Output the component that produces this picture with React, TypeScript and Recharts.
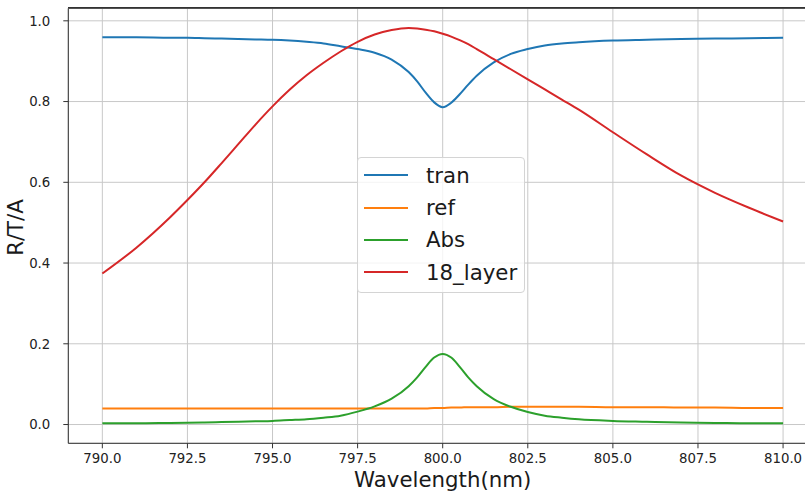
import React from "react";
import { LineChart, Line, XAxis, YAxis, CartesianGrid, Legend } from "recharts";

// wavelength samples (nm) shared by all series
const wavelength = [
  790, 791, 792, 792.5, 793, 793.5, 794, 794.5, 795, 795.5, 796, 796.5, 797,
  797.5, 798, 798.5, 799, 799.25, 799.5, 799.75, 800, 800.25, 800.5, 800.75, 801,
  801.5, 802, 802.5, 803, 803.5, 804, 805, 806, 807, 808, 809, 810,
];

const tran = [
  0.959, 0.959, 0.958, 0.958, 0.957, 0.956, 0.955, 0.954, 0.953, 0.951, 0.948,
  0.944, 0.937, 0.930, 0.921, 0.904, 0.873, 0.850, 0.822, 0.798, 0.786, 0.797,
  0.818, 0.842, 0.864, 0.897, 0.918, 0.930, 0.939, 0.944, 0.947, 0.951, 0.953,
  0.955, 0.956, 0.957, 0.958,
];

const ref = [
  0.04, 0.04, 0.04, 0.04, 0.04, 0.04, 0.04, 0.04, 0.04, 0.04, 0.04, 0.04, 0.04,
  0.04, 0.04, 0.04, 0.04, 0.04, 0.04, 0.041, 0.041, 0.042, 0.042, 0.043, 0.043,
  0.043, 0.044, 0.044, 0.044, 0.044, 0.044, 0.043, 0.043, 0.042, 0.042, 0.041,
  0.041,
];

const absorb = [
  0.003, 0.003, 0.004, 0.0045, 0.005, 0.006, 0.007, 0.008, 0.009, 0.011, 0.013,
  0.017, 0.022, 0.032, 0.045, 0.064, 0.095, 0.117, 0.143, 0.166, 0.175, 0.166,
  0.143, 0.117, 0.095, 0.063, 0.044, 0.031, 0.022, 0.017, 0.013, 0.009, 0.007,
  0.005, 0.004, 0.003, 0.003,
];

const layer18 = [
  0.374, 0.438, 0.514, 0.556, 0.6, 0.647, 0.695, 0.743, 0.788, 0.829, 0.865,
  0.896, 0.924, 0.948, 0.966, 0.977, 0.982, 0.981, 0.978, 0.974, 0.968, 0.961,
  0.952, 0.942, 0.93, 0.905, 0.88, 0.855, 0.83, 0.805, 0.78, 0.724, 0.669, 0.617,
  0.574, 0.537, 0.503,
];

const xTicks = [790, 792.5, 795, 797.5, 800, 802.5, 805, 807.5, 810];
const yTicks = [0, 0.2, 0.4, 0.6, 0.8, 1.0];

const series = [
  { key: "tran", name: "tran", color: "#1f77b4" },
  { key: "ref", name: "ref", color: "#ff7f0e" },
  { key: "abs", name: "Abs", color: "#2ca02c" },
  { key: "layer", name: "18_layer", color: "#d62728" },
];

const data = wavelength.map((x, i) => ({
  x,
  tran: tran[i],
  ref: ref[i],
  abs: absorb[i],
  layer: layer18[i],
}));

const FONT = "'DejaVu Sans', sans-serif";

function LegendBox() {
  return (
    <div
      style={{
        width: 166,
        height: 134,
        background: "rgba(255,255,255,0.8)",
        border: "1px solid #d4d4d4",
        borderRadius: 4,
        position: "relative",
        fontFamily: FONT,
        fontSize: 21.3,
        color: "#1a1a1a",
      }}
    >
      {series.map((s, i) => (
        <div
          key={s.key}
          style={{
            position: "absolute",
            left: 0,
            top: 1.2 + i * 32.4,
            height: 32,
            display: "flex",
            alignItems: "center",
          }}
        >
          <span
            style={{
              display: "inline-block",
              marginLeft: 6,
              width: 44,
              height: 2,
              background: s.color,
            }}
          />
          <span style={{ marginLeft: 18, lineHeight: 1 }}>{s.name}</span>
        </div>
      ))}
    </div>
  );
}

export default function App() {
  const tick = { fontSize: 13.3, fill: "#222", fontFamily: FONT };
  return (
    <div
      style={{
        position: "absolute",
        left: 0,
        top: 0,
        width: 805,
        height: 495,
        overflow: "hidden",
        background: "#fff",
      }}
    >
      {/* top spine of the axes frame */}
      <div
        style={{
          position: "absolute",
          left: 68,
          top: 7,
          width: 760,
          height: 0,
          borderTop: "1px solid #333",
          zIndex: 5,
        }}
      />
      <LineChart
        width={830}
        height={495}
        data={data}
        margin={{ top: 7.3, right: 12.9, bottom: 21.7, left: 20.3 }}
        style={{ fontFamily: FONT }}
      >
        <CartesianGrid stroke="#c8c8c8" strokeWidth={1} />
        <XAxis
          dataKey="x"
          type="number"
          domain={[789, 811]}
          ticks={xTicks}
          allowDataOverflow
          tickFormatter={(v) => v.toFixed(1)}
          tick={tick}
          tickSize={5}
          tickMargin={5}
          height={30}
          stroke="#333"
          tickLine={{ stroke: "#333" }}
        />
        <XAxis
          xAxisId="top"
          orientation="top"
          type="number"
          domain={[789, 811]}
          ticks={xTicks}
          tick={false}
          tickLine={false}
          height={1}
          stroke="#333"
        />
        <YAxis
          type="number"
          domain={[-0.0465, 1.031]}
          ticks={yTicks}
          allowDataOverflow
          tickFormatter={(v) => v.toFixed(1)}
          tick={tick}
          tickSize={5}
          tickMargin={13}
          width={48}
          stroke="#333"
          tickLine={{ stroke: "#333" }}
        />
        {series.map((s) => (
          <Line
            key={s.key}
            dataKey={s.key}
            name={s.name}
            stroke={s.color}
            strokeWidth={2}
            type="monotone"
            dot={false}
            isAnimationActive={false}
          />
        ))}
        <Legend
          layout="horizontal"
          verticalAlign="middle"
          align="center"
          content={() => <LegendBox />}
          wrapperStyle={{ left: 357, top: 157, width: 168, height: 136 }}
        />
      </LineChart>
      <svg
        width={805}
        height={495}
        style={{ position: "absolute", left: 0, top: 0, pointerEvents: "none" }}
      >
        <text
          x={442.7}
          y={486.7}
          textAnchor="middle"
          fontFamily={FONT}
          fontSize={21.3}
          fill="#1a1a1a"
        >
          Wavelength(nm)
        </text>
        <text
          transform="translate(23.3,227.5) rotate(-90)"
          textAnchor="middle"
          fontFamily={FONT}
          fontSize={21.3}
          fill="#1a1a1a"
        >
          R/T/A
        </text>
      </svg>
    </div>
  );
}
